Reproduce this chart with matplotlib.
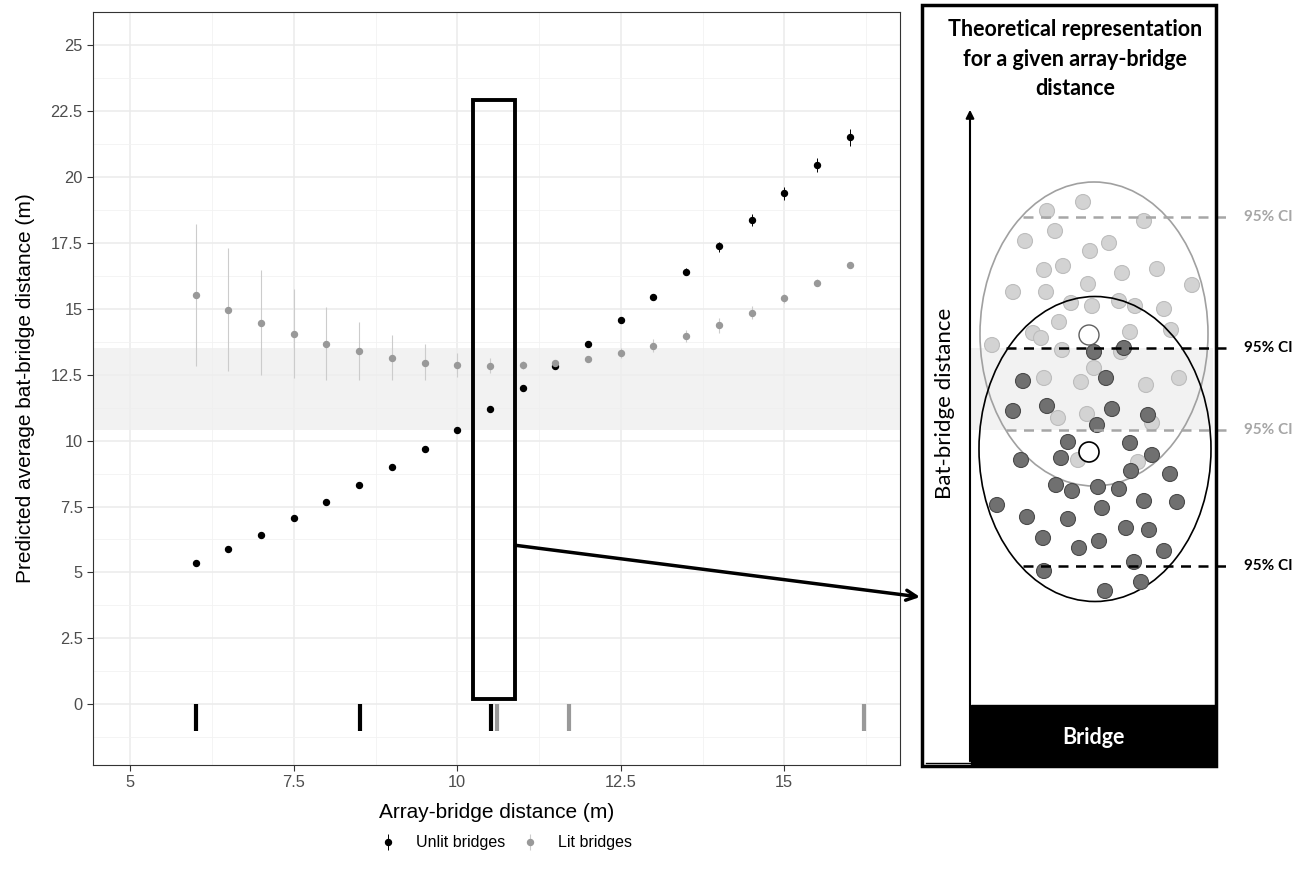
import numpy as np
import matplotlib
matplotlib.use("Agg")
import matplotlib.pyplot as plt
import matplotlib.transforms as mtransforms
from matplotlib.patches import Rectangle, Ellipse, Circle, ConnectionPatch

# values
dist = [6, 6.5, 7, 7.5, 8, 8.5, 9, 9.5, 10, 10.5, 11, 11.5, 12, 12.5, 13, 13.5, 14, 14.5, 15, 15.5, 16]
unlit_mean = [5.35, 5.88, 6.41, 7.06, 7.66, 8.31, 8.98, 9.70, 10.42, 11.20, 11.99, 12.82, 13.66, 14.56,
              15.45, 16.40, 17.36, 18.36, 19.39, 20.44, 21.52]
unlit_low = [5.31, 5.84, 6.37, 7.02, 7.61, 8.26, 8.93, 9.65, 10.37, 11.15, 11.93, 12.75, 13.58, 14.47,
             15.34, 16.27, 17.16, 18.13, 19.13, 20.17, 21.18]
unlit_high = [5.39, 5.92, 6.45, 7.10, 7.71, 8.36, 9.03, 9.75, 10.47, 11.25, 12.05, 12.89, 13.74, 14.65,
              15.56, 16.53, 17.54, 18.59, 19.63, 20.72, 21.83]
lit_mean = [15.52, 14.97, 14.47, 14.04, 13.67, 13.38, 13.14, 12.96, 12.86, 12.83, 12.86, 12.95, 13.10, 13.32,
            13.59, 13.96, 14.38, 14.83, 15.39, 15.98, 16.65]
lit_low = [12.83, 12.64, 12.49, 12.38, 12.29, 12.28, 12.29, 12.31, 12.41, 12.57, 12.70, 12.85, 12.98, 13.15,
           13.37, 13.75, 14.09, 14.61, 15.22, 15.85, 16.55]
lit_high = [18.21, 17.29, 16.46, 15.73, 15.06, 14.49, 14.02, 13.65, 13.33, 13.14, 13.02, 13.05, 13.22, 13.50,
            13.84, 14.19, 14.63, 15.10, 15.56, 16.11, 16.75]

rug_unlit = [6.01, 8.51, 10.52]
rug_lit = [10.60, 11.71, 16.22]

band_low, band_high = 10.42, 13.52

x_ticks = [5, 7.5, 10, 12.5, 15]
y_ticks = [0, 2.5, 5, 7.5, 10, 12.5, 15, 17.5, 20, 22.5, 25]

# schematic panel (pixel positions of the drawn bats)
light_x = [1083, 1047, 1144, 1055, 1025, 1109, 1090, 1063, 1044, 1122, 1157, 1192, 1013, 1046, 1088, 1071,
           1092, 1119, 1135, 1164, 1059, 1130, 1171, 1033, 1041, 992, 1062, 1121, 1094, 1044, 1081, 1146,
           1179, 1058, 1087, 1152, 1078, 1138]
light_y = [202, 211, 221, 231, 241, 243, 251, 266, 270, 273, 269, 285, 292, 292, 284, 303,
           306, 301, 306, 309, 322, 332, 330, 333, 338, 345, 350, 352, 368, 378, 382, 385,
           378, 418, 414, 423, 460, 462]
dark_x = [1094, 1124, 1023, 1106, 1013, 1047, 1112, 1148, 1097, 1068, 1130, 1021, 1061, 1152, 1131, 1170,
          1056, 1072, 1098, 1119, 997, 1027, 1068, 1102, 1144, 1177, 1043, 1079, 1099, 1126, 1149, 1164,
          1134, 1044, 1141, 1105]
dark_y = [352, 348, 381, 378, 411, 406, 409, 415, 425, 442, 443, 460, 458, 455, 471, 474,
          485, 491, 487, 489, 505, 517, 519, 508, 501, 502, 538, 548, 541, 528, 530, 551,
          562, 571, 582, 591]

fig = plt.figure(figsize=(13.1, 8.83), dpi=100)
ax = fig.add_axes([93 / 1310, 1 - 765 / 883, 807 / 1310, 753 / 883])

ax.set_xlim(4.43, 16.77)
ax.set_ylim(-2.3, 26.25)
ax.set_xticks(x_ticks)
ax.set_xticklabels([f"{v:g}" for v in x_ticks])
ax.set_xticks([v + 1.25 for v in x_ticks], minor=True)
ax.set_yticks(y_ticks)
ax.set_yticklabels([f"{v:g}" for v in y_ticks])
ax.set_yticks([v - 1.25 for v in y_ticks], minor=True)
ax.set_axisbelow(True)
ax.grid(which="major", color="#EBEBEB", lw=1.1)
ax.grid(which="minor", color="#F2F2F2", lw=0.6)
ax.tick_params(which="major", length=4, color="#333333", labelsize=11.8, labelcolor="#4D4D4D")
ax.tick_params(which="minor", length=0)
for s in ax.spines.values():
    s.set_color("#333333")
    s.set_linewidth(0.8)

ax.axhspan(band_low, band_high, color="#EEEEEE", alpha=0.75, lw=0, zorder=0.8)

h_unlit = ax.errorbar(dist, unlit_mean,
                      yerr=[np.subtract(unlit_mean, unlit_low), np.subtract(unlit_high, unlit_mean)],
                      fmt="o", color="black", ecolor="black", elinewidth=0.7, markersize=4.3,
                      capsize=0, zorder=3)
h_lit = ax.errorbar(dist, lit_mean,
                    yerr=[np.subtract(lit_mean, lit_low), np.subtract(lit_high, lit_mean)],
                    fmt="o", color="#999999", ecolor="#CCCCCC", elinewidth=0.8, markersize=4.3,
                    capsize=0, zorder=3)

ax.vlines(rug_unlit, -1, 0, color="black", lw=3, zorder=3)
ax.vlines(rug_lit, -1, 0, color="#999999", lw=3, zorder=2.9)

ax.add_patch(Rectangle((10.24, 0.19), 0.65, 22.71, fill=False, ec="black", lw=2.8,
                       clip_on=False, zorder=4))

ax.set_xlabel("Array-bridge distance (m)", fontsize=15, family="Liberation Sans")
ax.set_ylabel("Predicted average bat-bridge distance (m)", fontsize=15, family="Liberation Sans")
ax.xaxis.set_label_coords(0.5, -0.05)
ax.yaxis.set_label_coords(-0.072, 0.5)
for lab in ax.get_xticklabels() + ax.get_yticklabels():
    lab.set_family("Liberation Sans")

fig.legend([h_unlit, h_lit], ["Unlit bridges", "Lit bridges"], loc="center",
           bbox_to_anchor=(506 / 1310, 1 - 843 / 883), ncol=2, frameon=False, numpoints=1,
           handlelength=1.0, handletextpad=1.2, columnspacing=1.1,
           prop={"family": "Liberation Sans", "size": 11.5})

# schematic on the right, drawn in pixel space
ov = fig.add_axes([0, 0, 1, 1], zorder=3)
ov.set_xlim(0, 1310)
ov.set_ylim(883, 0)
ov.axis("off")
ov.patch.set_alpha(0)
trans = mtransforms.blended_transform_factory(ov.transData, ax.transData)

ov.add_patch(Rectangle((971, band_low), 242, band_high - band_low, transform=trans,
                       color="#F2F2F2", lw=0, zorder=1))
ov.add_patch(Ellipse((1094, 334), 228, 304, fill=False, ec="#A0A0A0", lw=1.2, zorder=2))
for x, y in zip(light_x, light_y):
    ov.add_patch(Circle((x, y), 7.5, fc="#D3D3D3", ec="#BDBDBD", lw=0.8, zorder=2.5))
ov.add_patch(Ellipse((1095, 449), 232, 305, fill=False, ec="black", lw=1.2, zorder=3))
for x, y in zip(dark_x, dark_y):
    ov.add_patch(Circle((x, y), 7.5, fc="#707070", ec="#4A4A4A", lw=0.8, zorder=3.5))
ov.add_patch(Circle((1089, 335), 10, fc="white", ec="#606060", lw=1.0, zorder=4))
ov.add_patch(Circle((1089, 452), 10, fc="white", ec="black", lw=1.2, zorder=4))

gray_ci = "#A6A6A6"
ov.plot([1023, 1230], [217, 217], ls=(0, (4, 3)), color=gray_ci, lw=1.8, zorder=5)
ov.plot([1006, 1230], [band_high, band_high], ls=(0, (4, 3)), color="black", lw=1.8,
        transform=trans, zorder=5)
ov.plot([1006, 1230], [band_low, band_low], ls=(0, (4, 3)), color=gray_ci, lw=1.8,
        transform=trans, zorder=5)
ov.plot([1023, 1230], [566, 566], ls=(0, (4, 3)), color="black", lw=1.8, zorder=5)
ci_font = dict(family="Lato", fontsize=11, fontweight="bold", va="center", ha="left")
ov.text(1244, 217, "95% CI", color=gray_ci, **ci_font)
ov.text(1244, band_high, "95% CI", color="black", transform=trans, **ci_font)
ov.text(1244, band_low, "95% CI", color=gray_ci, transform=trans, **ci_font)
ov.text(1244, 566, "95% CI", color="black", **ci_font)

ov.add_patch(Rectangle((971, 705), 245, 61, fc="black", ec="black", zorder=5))
ov.text(1093, 737, "Bridge", color="white", family="Lato", fontsize=15.5, fontweight="bold",
        ha="center", va="center", zorder=6)
ov.plot([926, 970], [763, 763], color="black", lw=1, zorder=5)
ov.annotate("", xy=(970, 107), xytext=(970, 764),
            arrowprops=dict(arrowstyle="-|>", color="black", lw=1.5, mutation_scale=12),
            zorder=5)
ov.text(945, 403, "Bat-bridge distance", rotation=90, family="Lato", fontsize=16,
        ha="center", va="center", zorder=5)
ov.text(1075, 59, "Theoretical representation\nfor a given array-bridge\ndistance",
        family="Lato", fontsize=15.5, fontweight="bold", ha="center", va="center",
        linespacing=1.5, zorder=5)
ov.add_patch(Rectangle((922, 5), 294, 761, fill=False, ec="black", lw=2.5, zorder=7))

con = ConnectionPatch(xyA=(10.89, 6.03), coordsA=ax.transData, xyB=(920, 597), coordsB=ov.transData,
                      arrowstyle="->", color="black", lw=2.5, mutation_scale=18, zorder=8)
ov.add_artist(con)

fig.savefig("out.png", dpi=100)
